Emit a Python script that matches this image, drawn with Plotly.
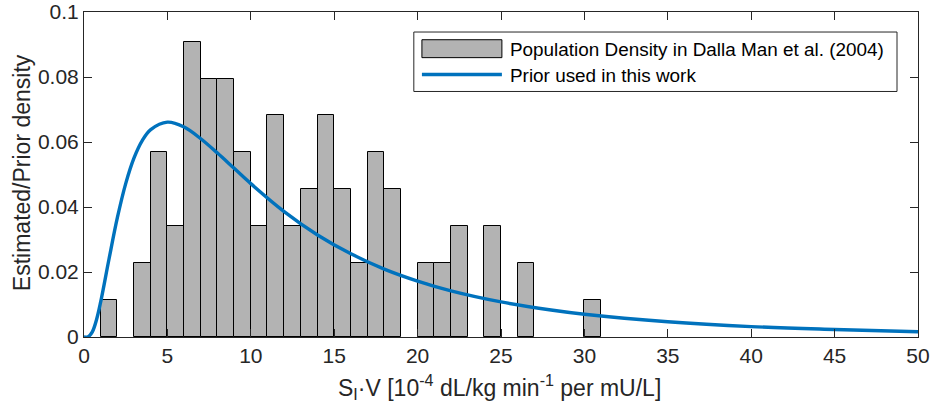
import plotly.graph_objects as go

# Histogram (bin left edges, width 1) and estimated density values
bin_left = [1, 3, 4, 5, 6, 7, 8, 9, 10, 11, 12, 13, 14, 15, 16, 17, 18, 20, 21, 22, 24, 26, 30]
density = [0.0114, 0.0227, 0.0568, 0.0341, 0.0909, 0.0795, 0.0795, 0.0568, 0.0341, 0.0682,
           0.0341, 0.0455, 0.0682, 0.0455, 0.0227, 0.0568, 0.0455, 0.0227, 0.0227, 0.0341,
           0.0341, 0.0227, 0.0114]
bin_width = 1

# Prior curve
prior_x = [0, 0.25, 0.5, 0.75, 1, 1.5, 2, 2.5, 3, 3.5, 4, 5, 6, 7, 8, 9, 10, 12, 14, 16, 18,
           20, 22, 25, 28, 30, 35, 40, 45, 50]
prior_y = [0.0, 0.0001, 0.0016, 0.0053, 0.0108, 0.0240, 0.0367, 0.0472, 0.0551, 0.0605, 0.0638,
           0.0661, 0.0646, 0.0610, 0.0566, 0.0519, 0.0472, 0.0386, 0.0314, 0.0256, 0.0209,
           0.0172, 0.0142, 0.0108, 0.0083, 0.0070, 0.0047, 0.0032, 0.0023, 0.0016]

x_ticks = [0, 5, 10, 15, 20, 25, 30, 35, 40, 45, 50]
y_ticks = [0, 0.02, 0.04, 0.06, 0.08, 0.1]
y_ticklabels = ["0", "0.02", "0.04", "0.06", "0.08", "0.1"]

legend_labels = ["Population Density in Dalla Man et al. (2004)", "Prior used in this work"]
x_title = "S<sub>I</sub>·V [10<sup>-4</sup> dL/kg min<sup>-1</sup> per mU/L]"
y_title = "Estimated/Prior density"

FONT = "Liberation Sans, Arial, sans-serif"
AXC = "#262626"
BAR = "#b3b3b3"
LINE = "#0072BD"
TICK_FS = 21
TITLE_FS = 23
LEG_FS = 18.9

fig = go.Figure()
fig.add_trace(go.Bar(
    x=bin_left, y=density, width=bin_width, offset=0,
    marker=dict(color=BAR, line=dict(color="black", width=1)),
    showlegend=False,
))
fig.add_trace(go.Scatter(
    x=prior_x, y=prior_y, mode="lines", line=dict(color=LINE, width=3.4, shape="spline"),
    showlegend=False,
))

W, H = 933, 415
ml, mr, mt, mb = 83.5, 15.3, 12, 78.3
pw = W - ml - mr
ph = H - mt - mb

def px(xp):
    return (xp - ml) / pw

def py(yp):
    return (H - mb - yp) / ph

shapes = [
    # legend box
    dict(type="rect", xref="paper", yref="paper", x0=px(413.4), x1=px(896.7), y0=py(91.4), y1=py(32),
         line=dict(color=AXC, width=1), fillcolor="white", layer="above"),
    dict(type="rect", xref="paper", yref="paper", x0=px(421.5), x1=px(501.5), y0=py(57.6), y1=py(39.7),
         line=dict(color="black", width=1), fillcolor=BAR, layer="above"),
    dict(type="line", xref="paper", yref="paper", x0=px(421.5), x1=px(501.5), y0=py(74.5), y1=py(74.5),
         line=dict(color=LINE, width=3.4), layer="above"),
]
annotations = [
    dict(xref="paper", yref="paper", x=px(508), y=py(49.5), text=legend_labels[0], showarrow=False,
         xanchor="left", yanchor="middle", font=dict(family=FONT, size=LEG_FS, color="black")),
    dict(xref="paper", yref="paper", x=px(508), y=py(75), text=legend_labels[1], showarrow=False,
         xanchor="left", yanchor="middle", font=dict(family=FONT, size=LEG_FS, color="black")),
    dict(xref="paper", yref="paper", x=px(499), y=py(387), text=x_title, showarrow=False,
         xanchor="center", yanchor="middle", font=dict(family=FONT, size=TITLE_FS, color=AXC)),
    dict(xref="paper", yref="paper", x=px(21.5), y=py(173), text=y_title, showarrow=False, textangle=-90,
         xanchor="center", yanchor="middle", font=dict(family=FONT, size=TITLE_FS, color=AXC)),
]

fig.update_layout(
    width=W, height=H,
    margin=dict(l=ml, r=mr, t=mt, b=mb, pad=0),
    plot_bgcolor="white", paper_bgcolor="white",
    bargap=0,
    shapes=shapes, annotations=annotations,
    font=dict(family=FONT, size=TICK_FS, color=AXC),
    xaxis=dict(
        range=[0, 50], tickvals=x_ticks, ticks="inside", ticklen=8, tickcolor=AXC, automargin=False,
        ticklabeloverflow="allow",
        showline=True, linecolor=AXC, linewidth=1, mirror="ticks", showgrid=False, zeroline=False,
        tickfont=dict(family=FONT, size=TICK_FS, color=AXC),
    ),
    yaxis=dict(
        range=[0, 0.1], tickvals=y_ticks, ticktext=y_ticklabels, ticks="inside", ticklen=8, tickcolor=AXC,
        automargin=False, ticklabeloverflow="allow",
        showline=True, linecolor=AXC, linewidth=1, mirror="ticks", showgrid=False, zeroline=False,
        tickfont=dict(family=FONT, size=TICK_FS, color=AXC),
    ),
)

fig.write_html("out.html")
